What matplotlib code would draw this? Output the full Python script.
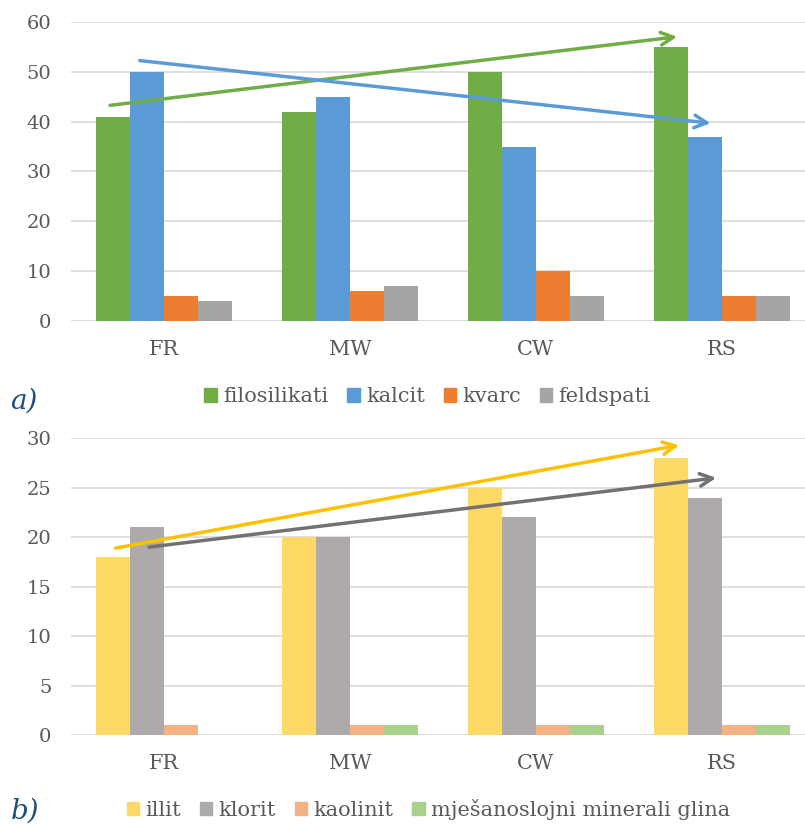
import numpy as np
import matplotlib
matplotlib.use('Agg')
import matplotlib.pyplot as plt
from matplotlib.patches import Patch

plt.rcParams['font.family'] = ['DejaVu Serif']

# podaci
kategorije = ['FR', 'MW', 'CW', 'RS']

# a) mineralni sastav
filosilikati = [41, 42, 50, 55]
kalcit = [50, 45, 35, 37]
kvarc = [5, 6, 10, 5]
feldspati = [4, 7, 5, 5]

# b) minerali glina
illit = [18, 20, 25, 28]
klorit = [21, 20, 22, 24]
kaolinit = [1, 1, 1, 1]
mjesanoslojni = [0, 1, 1, 1]

# trend strelice (x u indeksu kategorije, y u jedinicama osi)
trend_filo = ([-0.29, 2.76], [43.3, 57.1])
trend_kalcit = ([-0.13, 2.94], [52.3, 39.7])
trend_illit = ([-0.26, 2.77], [18.9, 29.3])
trend_klorit = ([-0.08, 2.97], [19.0, 26.0])

TXT = '#595959'
GRID = '#D9D9D9'


def crtaj_grupu(ax, serije, boje, ymax, korak):
    x = np.arange(len(kategorije))
    w = 0.183
    for i, (vals, c) in enumerate(zip(serije, boje)):
        ax.bar(x + (i - 1.5) * w, vals, width=w, color=c, zorder=2)
    ax.set_xlim(-0.5, 3.5)
    ax.set_ylim(0, ymax)
    ax.set_yticks(np.arange(0, ymax + 1, korak))
    ax.set_xticks(x)
    ax.set_xticklabels(kategorije)
    ax.yaxis.grid(True, color=GRID, linewidth=1.2, zorder=0)
    for s in ax.spines.values():
        s.set_visible(False)
    ax.tick_params(length=0, labelsize=14, colors=TXT)
    ax.tick_params(axis='y', pad=14)
    ax.tick_params(axis='x', pad=14, labelsize=15)
    ax.axhline(0, color=GRID, linewidth=1.2, zorder=1)


def strelica(ax, tr, c):
    (x0, x1), (y0, y1) = tr
    ax.annotate('', xy=(x1, y1), xytext=(x0, y0),
                arrowprops=dict(arrowstyle='->,head_length=0.9,head_width=0.45',
                                color=c, lw=2.5, shrinkA=0, shrinkB=0),
                zorder=5, annotation_clip=False)


fig = plt.figure(figsize=(8.05, 8.25), dpi=100)

ax1 = fig.add_axes([0.0882, 0.6113, 0.924, 0.3617])
boje_a = ['#70AD47', '#5B9BD5', '#ED7D31', '#A5A5A5']
crtaj_grupu(ax1, [filosilikati, kalcit, kvarc, feldspati], boje_a, 60, 10)
strelica(ax1, trend_filo, '#70AD47')
strelica(ax1, trend_kalcit, '#5B9BD5')

ax2 = fig.add_axes([0.0882, 0.1091, 0.924, 0.3596])
boje_b = ['#FFD966', '#AEAAAA', '#F4B183', '#A9D18E']
crtaj_grupu(ax2, [illit, klorit, kaolinit, mjesanoslojni], boje_b, 30, 5)
strelica(ax2, trend_illit, '#FFC000')
strelica(ax2, trend_klorit, '#767171')

leg_kw = dict(loc='center', ncol=4, frameon=False, fontsize=15,
              handlelength=0.6, handleheight=0.6, handletextpad=0.3,
              columnspacing=0.9, labelcolor=TXT)
fig.legend([Patch(color=c) for c in boje_a],
           ['filosilikati', 'kalcit', 'kvarc', 'feldspati'],
           bbox_to_anchor=(0.531, 0.519), **leg_kw)
fig.legend([Patch(color=c) for c in boje_b],
           ['illit', 'klorit', 'kaolinit', 'mješanoslojni minerali glina'],
           bbox_to_anchor=(0.532, 0.019), **leg_kw)

fig.text(0.013, 0.505, 'a)', fontsize=20, style='italic', color='#1F4E79')
fig.text(0.013, 0.0, 'b)', fontsize=20, style='italic', color='#1F4E79', va='bottom')

fig.savefig('out.png', dpi=100)
